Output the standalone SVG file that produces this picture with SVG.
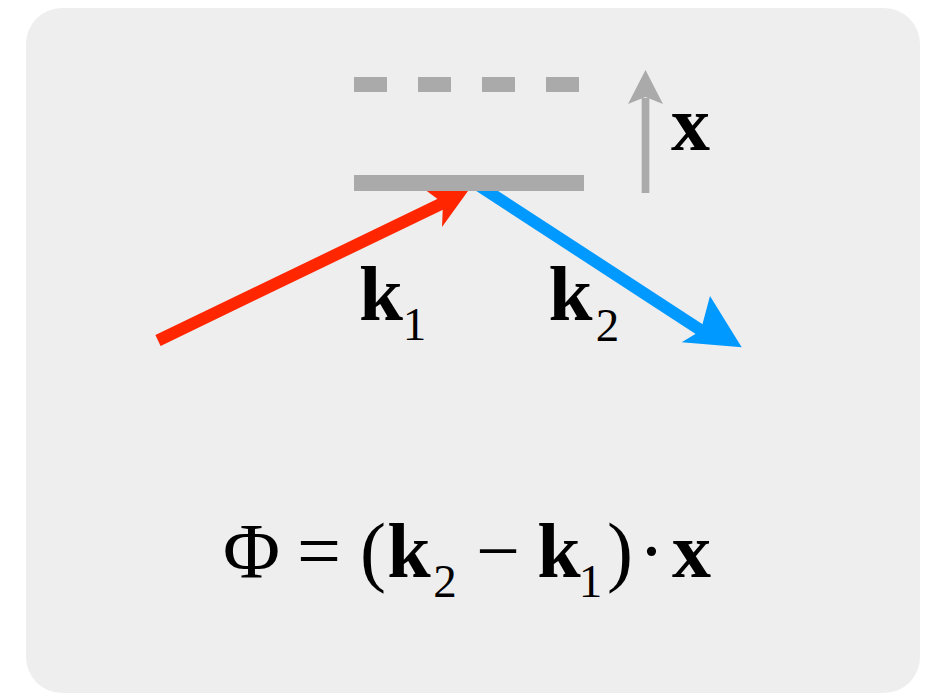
<svg xmlns="http://www.w3.org/2000/svg" width="928" height="693" viewBox="0 0 928 693">
<style>
text{font-family:'Liberation Serif',Tinos,'Times New Roman',Times,serif;fill:#000;text-anchor:middle}
.bold{font-weight:bold;font-size:79px}
.reg{font-weight:normal;font-size:78px}
.sub{font-weight:normal;font-size:47px}
.gray{fill:#aaaaaa}
</style>
<rect id="panel" x="26" y="8" width="894" height="685" rx="36" ry="36" fill="#eeeeee"/>
<g id="connectors">
  <g id="k1-arrow">
    <line x1="158" y1="340.5" x2="445" y2="202" stroke="#ff2600" stroke-width="12"/>
    <polygon points="468,191 442,227 443,203 423.7,188.7" fill="#ff2600"/>
  </g>
  <g id="k2-arrow">
    <line x1="478" y1="185" x2="702" y2="331" stroke="#0099ff" stroke-width="12"/>
    <polygon points="741.7,347.3 681.7,342.3 700.7,330.7 710,296" fill="#0099ff"/>
  </g>
</g>
<g id="mirror-displaced">
  <line x1="354" y1="84.5" x2="579" y2="84.5" stroke="#aaaaaa" stroke-width="15" stroke-dasharray="33 31"/>
</g>
<g id="mirror">
  <rect class="gray" x="354" y="175" width="230" height="16"/>
</g>
<g id="displacement">
  <line x1="645.5" y1="193" x2="645.5" y2="98" stroke="#aaaaaa" stroke-width="7.7"/>
  <polygon class="gray" points="645.5,70 663,104 645.5,97 628,104"/>
  <text class="bold" x="690.5" y="150" font-family="Liberation Serif, Times New Roman, serif" style="font-size:78px">x</text>
</g>
<g id="label-k1">
  <text class="bold" x="381" y="320">k</text>
  <text class="sub" x="414.5" y="340">1</text>
</g>
<g id="label-k2">
  <text class="bold" x="570.5" y="320">k</text>
  <text class="sub" x="607.5" y="341">2</text>
</g>
<g id="formula">
  <text class="reg" x="251.5" y="577">Φ</text>
  <text class="reg" x="319" y="577">=</text>
  <text class="reg" x="373" y="577">(</text>
  <text class="bold" x="409" y="577" style="font-size:78px">k</text>
  <text class="sub" x="445" y="597">2</text>
  <text class="reg" x="498" y="577">−</text>
  <text class="bold" x="559" y="577" style="font-size:78px">k</text>
  <text class="sub" x="590.5" y="597">1</text>
  <text class="reg" x="620" y="577">)</text>
  <text class="reg" x="651.5" y="577">·</text>
  <text class="bold" x="691.5" y="577" style="font-size:78px">x</text>
</g>
</svg>
